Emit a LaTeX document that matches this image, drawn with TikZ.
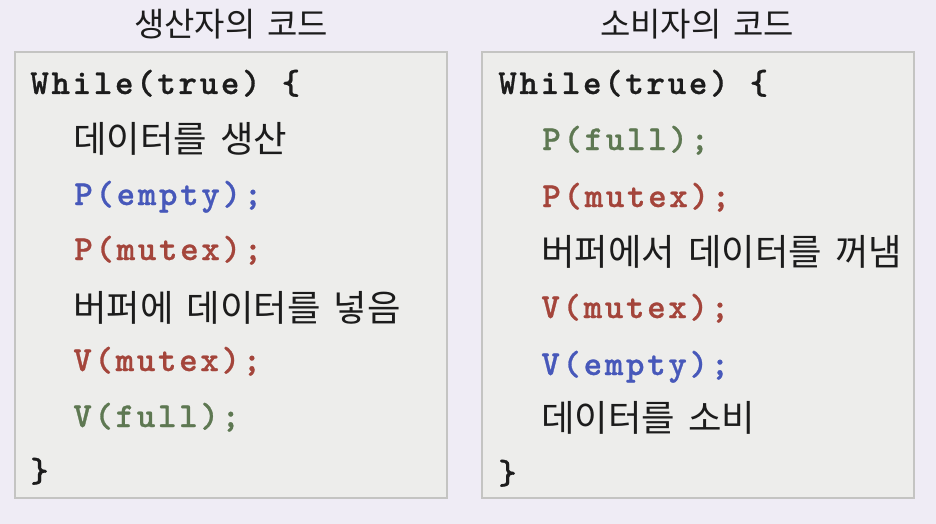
\documentclass[tikz,border=0pt]{standalone}
\usepackage{fontspec}
\newfontfamily\codefont[Extension=.otf, LetterSpace=8, FakeBold=0.8]{lmmonolt10-bold}
\newfontfamily\krfont[WordSpace=3.4]{Noto Sans CJK KR}
\newfontfamily\krtitle[WordSpace=1.6]{Noto Sans CJK KR}
\definecolor{bg}{HTML}{EFECF5}
\definecolor{panelfill}{HTML}{EDEDEB}
\definecolor{panelline}{HTML}{C4C4C2}
\definecolor{ink}{HTML}{1C1C1C}
\definecolor{semempty}{HTML}{4758BA}
\definecolor{semmutex}{HTML}{A4453B}
\definecolor{semfull}{HTML}{5E7852}
\tikzset{
  panel/.style={fill=panelfill, draw=panelline, line width=0.6pt},
  code/.style={anchor=base west, inner sep=0pt, text=ink,
    font=\codefont\fontsize{17.5pt}{20pt}\selectfont},
  kor/.style={anchor=base west, inner sep=0pt, text=ink,
    font=\krfont\fontsize{18.2pt}{20pt}\selectfont},
  head/.style={inner sep=0pt, text=ink,
    font=\krtitle\fontsize{16.5pt}{18pt}\selectfont}
}
\begin{document}
\begin{tikzpicture}[x=0.5pt, y=-0.5pt]
  \fill[bg] (0,0) rectangle (936,524);

  % producer
  \draw[panel] (15,52) rectangle (447,498);
  \node[head] (prodtitle) at (231,24) {생산자의 코드};
  \node[code] (pwhile) at (30,94) {While(true) \{};
  \node[kor] (pmake) at (73,152) {데이터를 생산};
  \node[code, text=semempty] (pempty) at (74,205) {P(empty);};
  \node[code, text=semmutex] (pmutex) at (74,260) {P(mutex);};
  \node[kor] (pput) at (73,321) {버퍼에 데이터를 넣음};
  \node[code, text=semmutex] (pvmutex) at (73,371) {V(mutex);};
  \node[code, text=semfull] (pvfull) at (73,427) {V(full);};
  \node[code] (pend) at (30,482) {\}};

  % consumer
  \draw[panel] (482,52) rectangle (914,498);
  \node[head] (constitle) at (697,24) {소비자의 코드};
  \node[code] (cwhile) at (498,94) {While(true) \{};
  \node[code, text=semfull] (cpfull) at (542,150) {P(full);};
  \node[code, text=semmutex] (cpmutex) at (542,207) {P(mutex);};
  \node[kor] (ctake) at (541,265) {버퍼에서 데이터를 꺼냄};
  \node[code, text=semmutex] (cvmutex) at (541,318) {V(mutex);};
  \node[code, text=semempty] (cvempty) at (541,375) {V(empty);};
  \node[kor] (cuse) at (541,431) {데이터를 소비};
  \node[code] (cend) at (498,484) {\}};
\end{tikzpicture}
\end{document}
